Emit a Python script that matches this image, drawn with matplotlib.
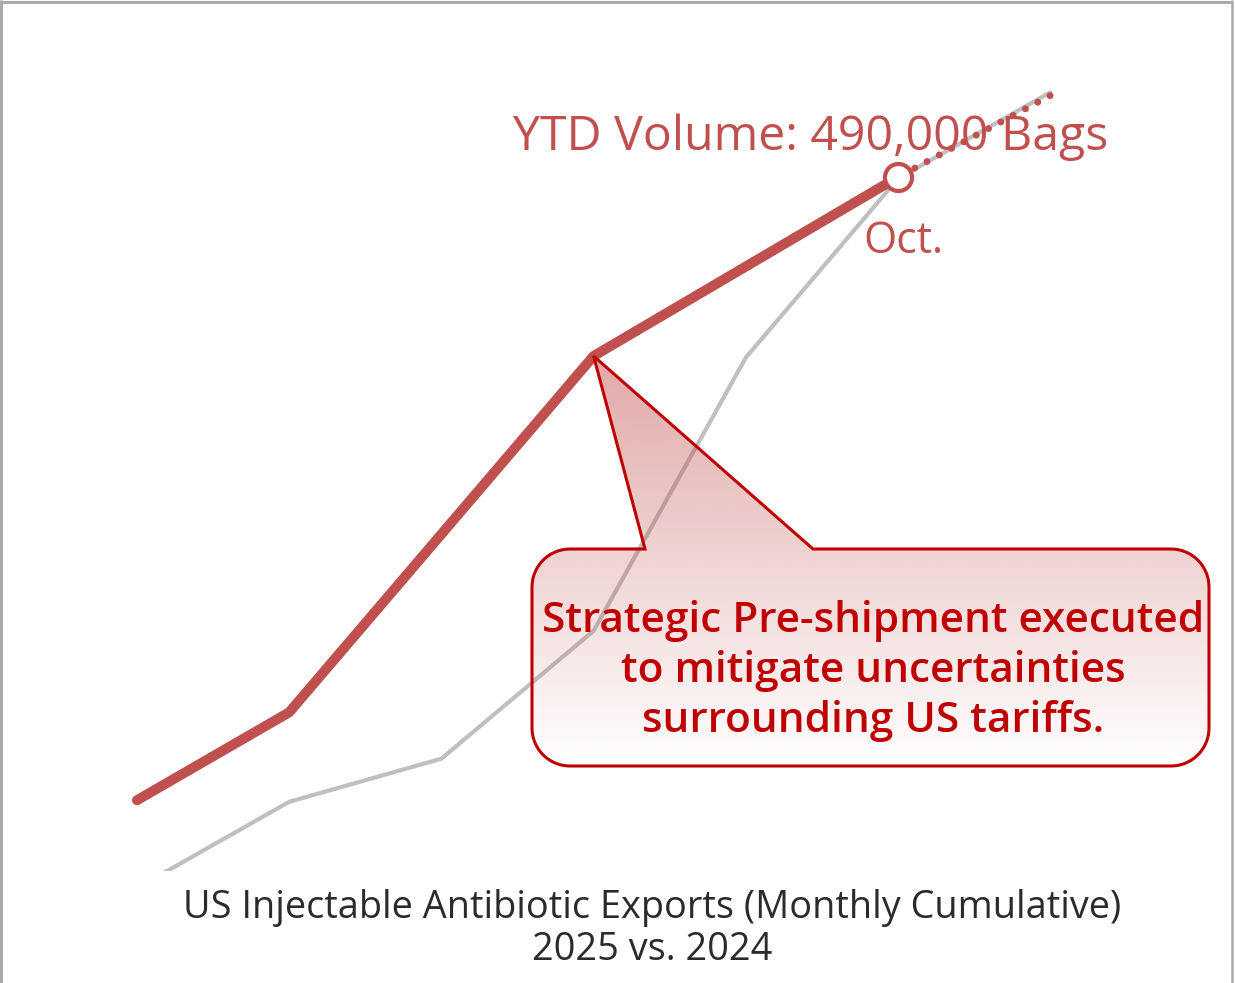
import numpy as np
import matplotlib
matplotlib.use("Agg")
import matplotlib.pyplot as plt
from matplotlib.path import Path
from matplotlib.patches import PathPatch

# ---------------- data ----------------
months_2025 = [5, 6, 8, 10]
volume_2025 = [100000, 155000, 378000, 490000]
months_2024 = [5, 6, 7, 8, 9, 10, 11]
volume_2024 = [45000, 99000, 126000, 206000, 377000, 489000, 543000]
proj_months = [10, 11]
proj_volume = [490000, 541000]
highlight_month = 10
highlight_value = 490000
callout_month = 8
callout_value = 378000

label_ytd = "YTD Volume: 490,000 Bags"
label_month = "Oct."
callout_lines = ["Strategic Pre-shipment executed",
                 "to mitigate uncertainties",
                 "surrounding US tariffs."]
title_lines = ["US Injectable Antibiotic Exports (Monthly Cumulative)",
               "2025 vs. 2024"]

RED = "#C0504D"
DARKRED = "#C00000"
GRAY = "#BFBFBF"
FONT = ["Open Sans", "Noto Sans", "DejaVu Sans"]

W, H = 1235, 983
fig = plt.figure(figsize=(W / 100, H / 100), dpi=100)
fig.patch.set_facecolor("white")

ax = fig.add_axes([0, 112 / H, 1, 871 / H])
ax.set_xlim(4.100, 12.214)
ax.set_ylim(55700, 600800)
ax.axis("off")

ax.plot(months_2024, volume_2024, color=GRAY, lw=3.0,
        solid_capstyle="round", solid_joinstyle="round", zorder=2)
ax.plot(proj_months, proj_volume, color=RED, lw=5.0,
        linestyle=(1.3, (0.01, 2.0)), dash_capstyle="round", zorder=3)
ax.plot(months_2025, volume_2025, color=RED, lw=7.2,
        solid_capstyle="round", solid_joinstyle="round", zorder=4)
ax.plot([highlight_month], [highlight_value], "o", ms=19.5, mfc="white",
        mec=RED, mew=3.0, zorder=5)

# overlay axes in pixel coordinates
ax2 = fig.add_axes([0, 0, 1, 1], zorder=5)
ax2.set_xlim(0, W)
ax2.set_ylim(H, 0)
ax2.axis("off")
ax2.patch.set_alpha(0)


def to_px(x, y):
    d = ax.transData.transform((x, y))
    return d[0], H - d[1]


hx, hy = to_px(highlight_month, highlight_value)
tx, ty = to_px(callout_month, callout_value)

# callout shape
L, R, T, B, r = 532, 1209, 549, 766, 38
wl, wr = 645, 813


def arc(cx, cy, a0, a1, n=20):
    a = np.radians(np.linspace(a0, a1, n))
    return list(zip(cx + r * np.cos(a), cy + r * np.sin(a)))


verts = [(wr, T), (R - r, T)]
verts += arc(R - r, T + r, -90, 0)
verts += [(R, B - r)]
verts += arc(R - r, B - r, 0, 90)
verts += [(L + r, B)]
verts += arc(L + r, B - r, 90, 180)
verts += [(L, T + r)]
verts += arc(L + r, T + r, 180, 270)
verts += [(wl, T), (tx, ty), (wr, T), (wr, T)]
codes = [Path.MOVETO] + [Path.LINETO] * (len(verts) - 2) + [Path.CLOSEPOLY]
path = Path(verts, codes)

clip_patch = PathPatch(path, facecolor="none", edgecolor="none")
ax2.add_patch(clip_patch)
n = 256
grad = np.zeros((n, 1, 4))
rgb = matplotlib.colors.to_rgb(RED)
grad[:, 0, 0] = rgb[0]
grad[:, 0, 1] = rgb[1]
grad[:, 0, 2] = rgb[2]
grad[:, 0, 3] = np.linspace(0.49, 0.0, n)
im = ax2.imshow(grad, extent=(L, R, B, ty), origin="upper", aspect="auto",
                interpolation="bilinear", zorder=6)
im.set_clip_path(clip_patch)
ax2.add_patch(PathPatch(path, facecolor="none", edgecolor=DARKRED, lw=2.2,
                        joinstyle="miter", zorder=7))

renderer = fig.canvas.get_renderer()


def fit(t, target):
    w = t.get_window_extent(renderer).width
    t.set_fontsize(t.get_fontsize() * target / w)


t = ax2.text(hx - 87, hy - 27, label_ytd, color=RED, family=FONT,
             fontsize=30, ha="center", va="baseline", zorder=8)
fit(t, 595)
t = ax2.text(hx + 5, hy + 76, label_month, color=RED, family=FONT,
             fontsize=30, ha="center", va="baseline", zorder=8)
fit(t, 80)

cl_widths = [668, 504, 463]
cl_base = [632, 682, 732]
sizes = []
cl_texts = []
for line, wd, yb in zip(callout_lines, cl_widths, cl_base):
    t = ax2.text(873, yb, line, color=DARKRED, family=FONT, weight="semibold",
                 fontsize=24, ha="center", va="baseline", zorder=8)
    fit(t, wd)
    sizes.append(t.get_fontsize())
    cl_texts.append(t)
for t in cl_texts:
    t.set_fontsize(np.mean(sizes))

t1 = ax2.text(652, 918, title_lines[0], color="#2B2B2B", family=FONT,
              fontsize=24, ha="center", va="baseline", zorder=8)
fit(t1, 938)
t2 = ax2.text(652, 960, title_lines[1], color="#2B2B2B", family=FONT,
              fontsize=t1.get_fontsize(), ha="center", va="baseline", zorder=8)

# border
bc = "#ABABAB"
ax2.plot([0, 1232], [1.5, 1.5], color=bc, lw=2.2, solid_capstyle="butt")
ax2.plot([1.2, 1.2], [0, H], color=bc, lw=2.2, solid_capstyle="butt")
ax2.plot([1231.5, 1231.5], [0, H], color=bc, lw=1.8, solid_capstyle="butt")

fig.savefig("out.png", dpi=100)
